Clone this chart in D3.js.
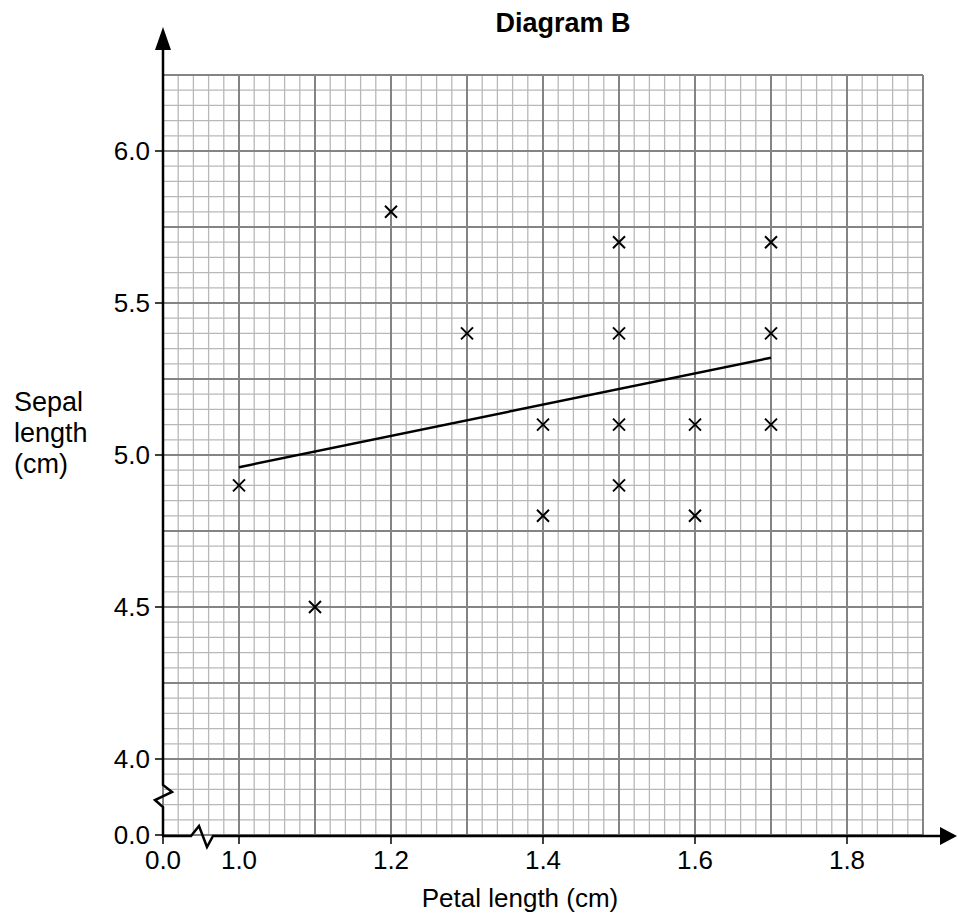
<!DOCTYPE html>
<html>
<head>
<meta charset="utf-8">
<script src="https://cdn.jsdelivr.net/npm/d3@7"></script>
<style>
  body { margin: 0; background: #fff; }
  svg text { font-family: "Liberation Sans", Arial, sans-serif; fill: #000; }
</style>
</head>
<body>
<svg id="chart" width="958" height="921"></svg>
<script>
// data
var petal = [1.0, 1.1, 1.2, 1.3, 1.4, 1.4, 1.5, 1.5, 1.5, 1.5, 1.6, 1.6, 1.7, 1.7, 1.7];
var sepal = [4.9, 4.5, 5.8, 5.4, 5.1, 4.8, 5.7, 5.4, 5.1, 4.9, 5.1, 4.8, 5.7, 5.4, 5.1];
var fitX = [1.0, 1.7];
var fitY = [4.96, 5.32];
var xTicks = [1.0, 1.2, 1.4, 1.6, 1.8];
var yTicks = [4.0, 4.5, 5.0, 5.5, 6.0];

var svg = d3.select('#chart');

// the grid starts at a broken axis: 0.9 / 3.75 sit at the origin
var x = d3.scaleLinear().domain([0.9, 1.9]).range([163, 923]);
var y = d3.scaleLinear().domain([3.75, 6.25]).range([835, 75]);

//Grid
var grid = svg.append('g');
var minorX = d3.range(0, 51).map(function (i) { return 0.9 + i * 0.02; });
var minorY = d3.range(0, 51).map(function (i) { return 3.75 + i * 0.05; });
grid.selectAll('.mx').data(minorX.filter(function (d, i) { return i % 5; }))
  .enter().append('line')
  .attr('x1', function (d) { return x(d); }).attr('x2', function (d) { return x(d); })
  .attr('y1', y(3.75)).attr('y2', y(6.25))
  .attr('stroke', '#b8b8b8').attr('stroke-width', 1.3);
grid.selectAll('.my').data(minorY.filter(function (d, i) { return i % 5; }))
  .enter().append('line')
  .attr('y1', function (d) { return y(d); }).attr('y2', function (d) { return y(d); })
  .attr('x1', x(0.9)).attr('x2', x(1.9))
  .attr('stroke', '#b8b8b8').attr('stroke-width', 1.3);
grid.selectAll('.Mx').data(minorX.filter(function (d, i) { return i % 5 === 0; }))
  .enter().append('line')
  .attr('x1', function (d) { return x(d); }).attr('x2', function (d) { return x(d); })
  .attr('y1', y(3.75)).attr('y2', y(6.25))
  .attr('stroke', '#848484').attr('stroke-width', 2);
grid.selectAll('.My').data(minorY.filter(function (d, i) { return i % 5 === 0; }))
  .enter().append('line')
  .attr('y1', function (d) { return y(d); }).attr('y2', function (d) { return y(d); })
  .attr('x1', x(0.9)).attr('x2', x(1.9))
  .attr('stroke', '#848484').attr('stroke-width', 2);

//Axes with breaks
var ax = svg.append('g').attr('fill', 'none').attr('stroke', '#000').attr('stroke-width', 2.5);
ax.append('path').attr('d',
  'M163,836 L163,807 L155,800 L172,792 L163,785 L163,48');
ax.append('path').attr('d',
  'M162,836 L191,836 L199,826 L207,847 L213,836 L942,836');
svg.append('path').attr('d', 'M163,27 L155,50 L171,50 Z').attr('fill', '#000');
svg.append('path').attr('d', 'M957,836 L940,827 L940,845 Z').attr('fill', '#000');

// ticks
var ylab = yTicks.concat([3.75]);
svg.selectAll('.yt').data(ylab).enter().append('line')
  .attr('x1', 155).attr('x2', 163)
  .attr('y1', function (d) { return y(d); }).attr('y2', function (d) { return y(d); })
  .attr('stroke', '#000').attr('stroke-width', 1.5);
var xlab = xTicks.concat([0.9]);
svg.selectAll('.xt').data(xlab).enter().append('line')
  .attr('x1', function (d) { return x(d); }).attr('x2', function (d) { return x(d); })
  .attr('y1', 836).attr('y2', 844)
  .attr('stroke', '#000').attr('stroke-width', 1.5);

svg.selectAll('.yl').data(ylab).enter().append('text')
  .attr('x', 150).attr('y', function (d) { return y(d) + 9; })
  .attr('text-anchor', 'end').style('font-size', '26px')
  .text(function (d) { return d === 3.75 ? '0.0' : d3.format('.1f')(d); });
svg.selectAll('.xl').data(xlab).enter().append('text')
  .attr('x', function (d) { return x(d); }).attr('y', 869)
  .attr('text-anchor', 'middle').style('font-size', '26px')
  .text(function (d) { return d === 0.9 ? '0.0' : d3.format('.1f')(d); });

//Labels
svg.append('text').attr('x', 520).attr('y', 907).attr('text-anchor', 'middle')
  .style('font-size', '26px').text('Petal length (cm)');
svg.append('text').attr('x', 563).attr('y', 32).attr('text-anchor', 'middle')
  .style('font-size', '27px').style('font-weight', 'bold').text('Diagram B');
svg.append('text').attr('x', 14).attr('y', 411).style('font-size', '27px')
  .selectAll('tspan').data(['Sepal', 'length', '(cm)']).enter().append('tspan')
  .attr('x', 14).attr('dy', function (d, i) { return i ? 31 : 0; })
  .text(function (d) { return d; });

//Line of best fit
svg.append('line')
  .attr('x1', x(fitX[0])).attr('y1', y(fitY[0]))
  .attr('x2', x(fitX[1])).attr('y2', y(fitY[1]))
  .attr('stroke', '#000').attr('stroke-width', 2.5);

//Crosses
var s = 6;
svg.selectAll('.pt').data(petal).enter().append('path')
  .attr('d', function (d, i) {
    var px = x(d), py = y(sepal[i]);
    return 'M' + (px - s) + ',' + (py - s) + 'L' + (px + s) + ',' + (py + s) +
      'M' + (px - s) + ',' + (py + s) + 'L' + (px + s) + ',' + (py - s);
  })
  .attr('stroke', '#000').attr('stroke-width', 2).attr('fill', 'none');
</script>
</body>
</html>
